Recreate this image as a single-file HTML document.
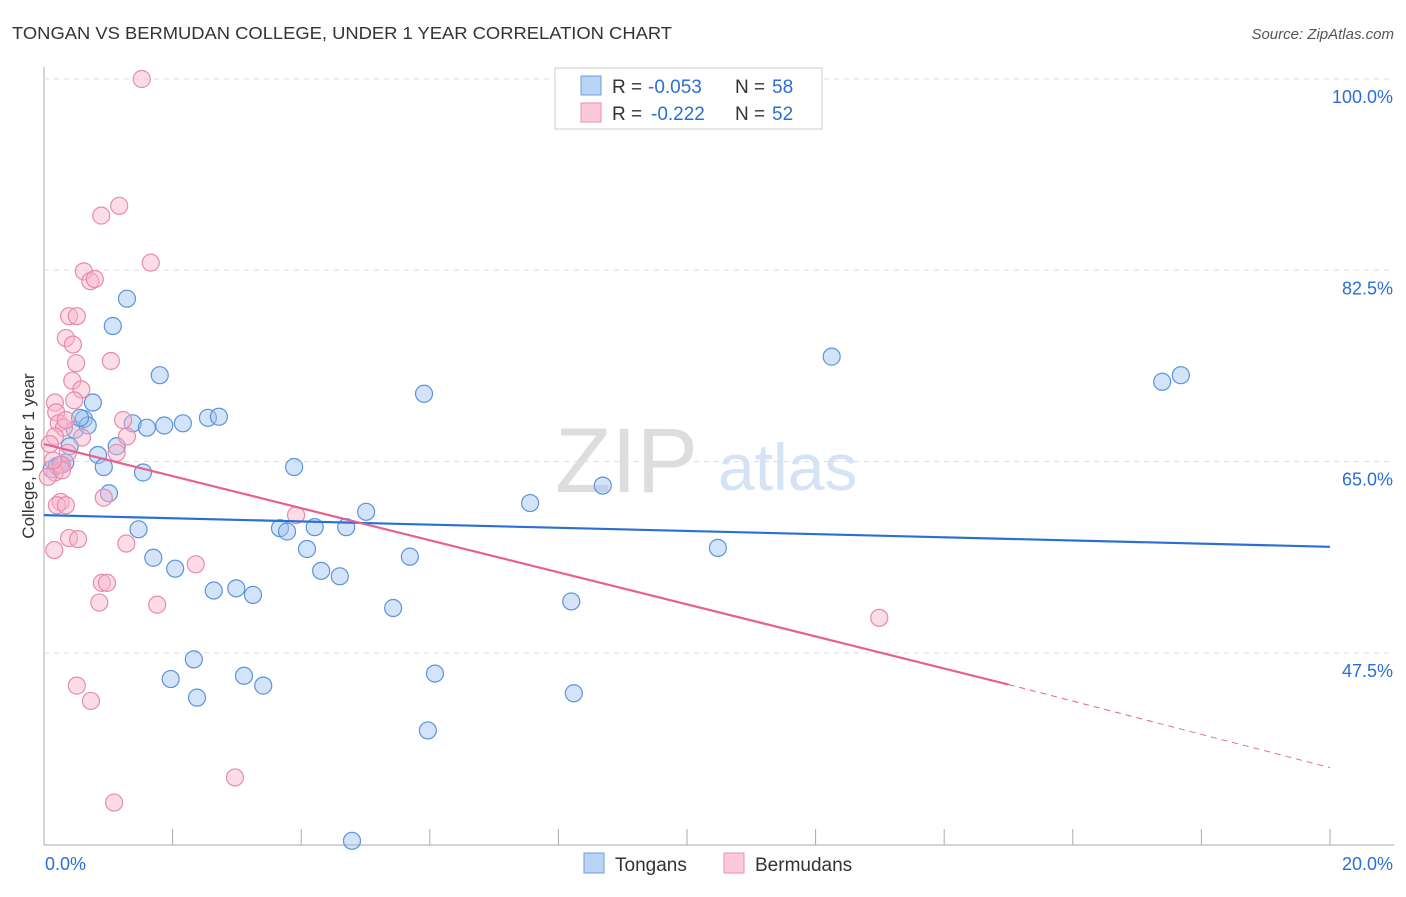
<!DOCTYPE html>
<html><head><meta charset="utf-8"><style>
body{margin:0;background:#fff;font-family:"Liberation Sans",sans-serif;}
svg text{font-family:"Liberation Sans",sans-serif;}
</style></head><body>
<svg id="c" width="1406" height="892">
<text x="12" y="39" font-size="17.5" fill="#333" textLength="660" lengthAdjust="spacingAndGlyphs">TONGAN VS BERMUDAN COLLEGE, UNDER 1 YEAR CORRELATION CHART</text>
<text x="1394" y="39" font-size="15" fill="#555" font-style="italic" text-anchor="end">Source: ZipAtlas.com</text>
<text x="34" y="456" font-size="17" fill="#333" text-anchor="middle" transform="rotate(-90 34 456)">College, Under 1 year</text>
<text x="555" y="492" font-size="92" fill="#ddd" font-family="Liberation Serif">ZIP</text>
<text x="718" y="490" font-size="66" fill="#d5e3f5">atlas</text>
<g id="grid"></g><g id="pts"></g><g id="trend"></g>
<g>
<rect x="555" y="68" width="267" height="61" fill="#fff" stroke="#ccc"/>
<rect x="581" y="76" width="20" height="19" fill="#b9d4f5" stroke="#6a9ee0"/>
<rect x="581" y="103" width="20" height="19" fill="#fbc9d8" stroke="#ea8fae"/>
<text x="612" y="93" font-size="19" fill="#333">R =</text>
<text x="648" y="93" font-size="19" fill="#2a6fd6">-0.053</text>
<text x="735" y="93" font-size="19" fill="#333">N =</text>
<text x="772" y="93" font-size="19" fill="#2a6fd6">58</text>
<text x="612" y="120" font-size="19" fill="#333">R =</text>
<text x="651" y="120" font-size="19" fill="#2a6fd6">-0.222</text>
<text x="735" y="120" font-size="19" fill="#333">N =</text>
<text x="772" y="120" font-size="19" fill="#2a6fd6">52</text>
</g>
<g>
<rect x="584" y="853" width="20" height="20" fill="#b9d4f5" stroke="#6a9ee0"/>
<text x="615" y="871" font-size="19" fill="#333">Tongans</text>
<rect x="724" y="853" width="20" height="20" fill="#fbc9d8" stroke="#ea8fae"/>
<text x="755" y="871" font-size="19" fill="#333">Bermudans</text>
</g>
</svg>
<script>
const yTicks=[100,82.5,65,47.5];
const xTickLabels=["0.0%","20.0%"];
const tonganX=[0.12,0.2,0.33,0.4,0.48,0.62,0.68,0.76,0.84,0.93,1.01,1.07,1.13,1.29,1.38,1.47,1.54,1.6,1.7,1.8,1.87,2.04,1.97,2.16,2.33,2.38,2.55,2.64,2.72,2.99,3.11,3.25,3.41,3.67,3.78,3.89,4.09,4.21,4.31,4.6,4.7,4.79,5.01,5.43,5.69,5.91,5.97,6.08,7.56,8.2,8.24,8.69,10.48,12.25,17.39,17.68,0.25,0.56];
const tonganY=[64.3,64.6,64.9,66.4,67.9,68.9,68.3,70.4,65.6,64.5,62.1,77.4,66.4,79.9,68.5,58.8,64,68.1,56.2,72.9,68.3,55.2,45.1,68.5,46.9,43.4,69,53.2,69.1,53.4,45.4,52.8,44.5,58.9,58.6,64.5,57,59,55,54.5,59,30.3,60.4,51.6,56.3,71.2,40.4,45.6,61.2,52.2,43.8,62.8,57.1,74.6,72.3,72.9,64.7,69];
const bermudanX=[1.52,1.17,0.89,1.66,0.62,0.72,0.79,0.39,0.51,0.34,0.45,0.5,1.04,0.44,0.58,0.17,0.47,0.19,1.23,0.23,0.31,0.17,1.29,0.59,0.09,0.37,1.13,0.28,0.17,0.06,0.93,0.26,0.2,0.34,0.39,0.53,0.16,1.28,0.9,0.98,0.86,1.76,2.36,3.92,0.51,0.73,1.09,2.97,12.99,0.28,0.14,0.34];
const bermudanY=[100,88.4,87.5,83.2,82.4,81.5,81.7,78.3,78.3,76.3,75.7,74,74.2,72.4,71.6,70.4,70.6,69.5,68.8,68.5,68.1,67.3,67.3,67.2,66.6,65.8,65.8,64.7,64,63.6,61.7,61.3,61,61,58,57.9,56.9,57.5,53.9,53.9,52.1,51.9,55.6,60.1,44.5,43.1,33.8,36.1,50.7,64.2,65.1,68.8];
const tonganTrend=[60.1,57.2];
const bermudanTrend=[66.6,44.6,37];
const NS="http://www.w3.org/2000/svg";
const X=v=>44+v*64.3, Y=v=>79+(100-v)*10.93;
function mk(t,a,p){const e=document.createElementNS(NS,t);for(const k in a)e.setAttribute(k,a[k]);p.appendChild(e);return e;}
const svg=document.getElementById('c'),g=document.getElementById('grid');
mk('line',{x1:44,y1:67,x2:44,y2:845,stroke:'#aaa'},g);
mk('line',{x1:44,y1:845,x2:1394,y2:845,stroke:'#aaa'},g);
for(let i=1;i<=10;i++){const l=mk('line',{x1:X(i*2),y1:829,x2:X(i*2),y2:845,stroke:'#aaa'},g);}
yTicks.forEach(v=>{const l=mk('line',{x1:44,y1:Y(v),x2:1394,y2:Y(v),stroke:'#ddd','stroke-dasharray':'5,5'},g);

const t=mk('text',{x:1393,y:Y(v)+24,'font-size':18,fill:'#2a6fd6','text-anchor':'end'},g);t.textContent=v.toFixed(1)+'%';
});
xTickLabels.forEach((s,i)=>{const t=mk('text',{x:i?1393:45,y:870,'font-size':18,fill:'#2a6fd6','text-anchor':i?'end':'start'},g);t.textContent=s;
});
const p=document.getElementById('pts');
tonganX.forEach((x,i)=>{const c=mk('circle',{cx:X(x),cy:Y(tonganY[i]),r:8.5,fill:'rgba(160,196,240,0.45)',stroke:'#5b93dc','stroke-width':1.2},p);
});
bermudanX.forEach((x,i)=>{const c=mk('circle',{cx:X(x),cy:Y(bermudanY[i]),r:8.5,fill:'rgba(249,180,202,0.45)',stroke:'#e88aab','stroke-width':1.2},p);
});
const tr=document.getElementById('trend');
let l=mk('line',{x1:X(0),y1:Y(tonganTrend[0]),x2:X(20),y2:Y(tonganTrend[1]),stroke:'#2a6fd6','stroke-width':2.2},tr);

l=mk('line',{x1:X(0),y1:Y(bermudanTrend[0]),x2:X(15),y2:Y(bermudanTrend[1]),stroke:'#e8608e','stroke-width':2.2},tr);

l=mk('line',{x1:X(15),y1:Y(bermudanTrend[1]),x2:X(20),y2:Y(bermudanTrend[2]),stroke:'#e8608e','stroke-width':1,'stroke-dasharray':'6,5'},tr);

</script>
</body></html>
